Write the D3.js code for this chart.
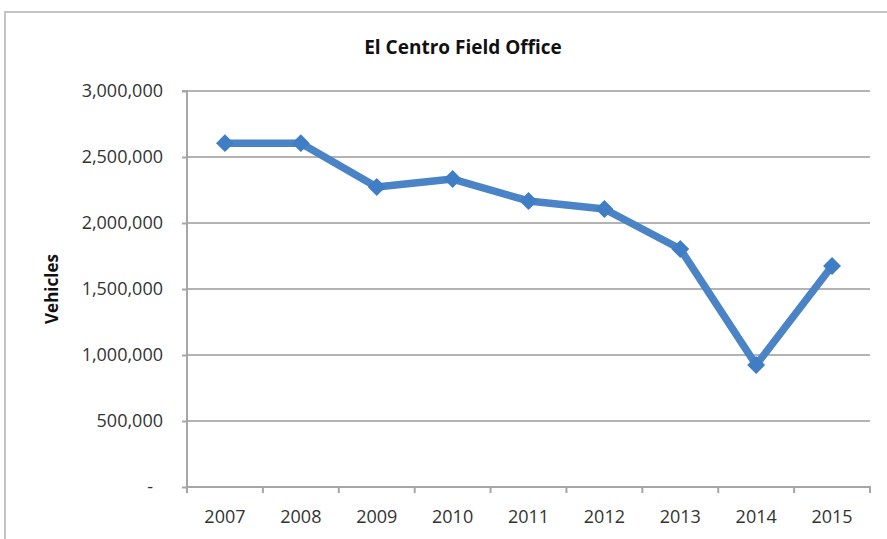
<!DOCTYPE html>
<html>
<head>
<meta charset="utf-8">
<script src="https://cdn.jsdelivr.net/npm/d3@7"></script>
<style>
  body { margin: 0; background: #ffffff; }
  svg { display: block; }
</style>
</head>
<body>
<div id="chart-area"></div>
<script>
// data
var years = ["2007", "2008", "2009", "2010", "2011", "2012", "2013", "2014", "2015"];
var vehicles = [2605000, 2605000, 2273000, 2333000, 2167000, 2106000, 1803000, 924000, 1674000];
var yTicks = [0, 500000, 1000000, 1500000, 2000000, 2500000, 3000000];

var W = 887, H = 539;
var margin = { left: 187, right: 17, top: 91, bottom: 52 };
var width = W - margin.left - margin.right;
var height = H - margin.top - margin.bottom;

var data = years.map(function (d, i) {
  return { year: d, value: vehicles[i] };
});

var svg = d3
  .select("#chart-area")
  .append("svg")
  .attr("width", W)
  .attr("height", H)
  .attr("xmlns", "http://www.w3.org/2000/svg");

svg.append("rect").attr("width", W).attr("height", H).attr("fill", "#ffffff");

// outer chart frame (only top and left edge are in view)
svg.append("path")
  .attr("d", "M5," + H + "V12H" + W)
  .attr("fill", "none")
  .attr("stroke", "#c4c4c4")
  .attr("stroke-width", 2);

svg.append("text")
  .attr("x", 463)
  .attr("y", 54)
  .attr("text-anchor", "middle")
  .attr("font-family", "'Open Sans', sans-serif")
  .attr("font-weight", "bold")
  .attr("font-size", "19px")
  .attr("fill", "#111")
  .text("El Centro Field Office");

var g = svg.append("g")
  .attr("transform", "translate(" + margin.left + "," + margin.top + ")");

var xscale = d3.scaleBand().domain(years).range([0, width]).padding(0);
var yscale = d3.scaleLinear().domain([0, 3000000]).range([height, 0]);

// gridlines
g.append("g")
  .selectAll("line")
  .data(yTicks.filter(function (d) { return d > 0; }))
  .enter()
  .append("line")
  .attr("x1", 0)
  .attr("x2", width)
  .attr("y1", function (d) { return yscale(d); })
  .attr("y2", function (d) { return yscale(d); })
  .attr("stroke", "#b3b3b3")
  .attr("stroke-width", 2);

// y axis
var yAxis = d3.axisLeft(yscale)
  .tickValues(yTicks)
  .tickSize(5)
  .tickPadding(19)
  .tickFormat(function (d) { return d === 0 ? "-" : d3.format(",")(d); });

var ya = g.append("g").attr("class", "y-axis").call(yAxis);
ya.select(".domain").attr("d", "M-5,0H0V" + (height + 6)).attr("stroke", "#a6a6a6").attr("stroke-width", 2);
ya.selectAll(".tick line").attr("stroke", "#a6a6a6").attr("stroke-width", 2);
ya.selectAll(".tick text")
  .attr("font-family", "'Open Sans', sans-serif")
  .attr("font-size", "18px")
  .attr("fill", "#333")
  .attr("dx", function (d) { return d === 0 ? -10 : 0; });

// x axis: labels at band centres, tick marks at band edges
var xAxis = d3.axisBottom(xscale).tickSize(0).tickPadding(23);
var xa = g.append("g")
  .attr("class", "x-axis")
  .attr("transform", "translate(0," + height + ")")
  .call(xAxis);
xa.select(".domain").attr("d", "M0,0H" + width + "V6").attr("stroke", "#a6a6a6").attr("stroke-width", 2);
xa.selectAll(".tick text")
  .attr("font-family", "'Open Sans', sans-serif")
  .attr("font-size", "18px")
  .attr("fill", "#333");
xa.selectAll(".edge")
  .data(years.slice(1))
  .enter()
  .append("line")
  .attr("class", "edge")
  .attr("x1", function (d) { return xscale(d); })
  .attr("x2", function (d) { return xscale(d); })
  .attr("y1", 0)
  .attr("y2", 6)
  .attr("stroke", "#a6a6a6")
  .attr("stroke-width", 2);

g.append("text")
  .attr("transform", "translate(-135," + yscale(1500000) + ") rotate(-90)")
  .attr("text-anchor", "middle")
  .attr("dy", "0.35em")
  .attr("font-family", "'Open Sans', sans-serif")
  .attr("font-weight", "bold")
  .attr("font-size", "17px")
  .attr("fill", "#111")
  .text("Vehicles");

var cx = function (d) { return xscale(d.year) + xscale.bandwidth() / 2; };

var line = d3.line()
  .x(cx)
  .y(function (d) { return yscale(d.value); });

g.append("path")
  .datum(data)
  .attr("d", line)
  .attr("fill", "none")
  .attr("stroke", "#4a84c6")
  .attr("stroke-width", 7.5)
  .attr("stroke-linejoin", "round");

var diamond = d3.symbol().type(d3.symbolSquare).size(160);
g.selectAll(".marker")
  .data(data)
  .enter()
  .append("path")
  .attr("class", "marker")
  .attr("d", diamond)
  .attr("transform", function (d) {
    return "translate(" + cx(d) + "," + yscale(d.value) + ") rotate(45)";
  })
  .attr("fill", "#3f7dc4");
</script>
</body>
</html>
